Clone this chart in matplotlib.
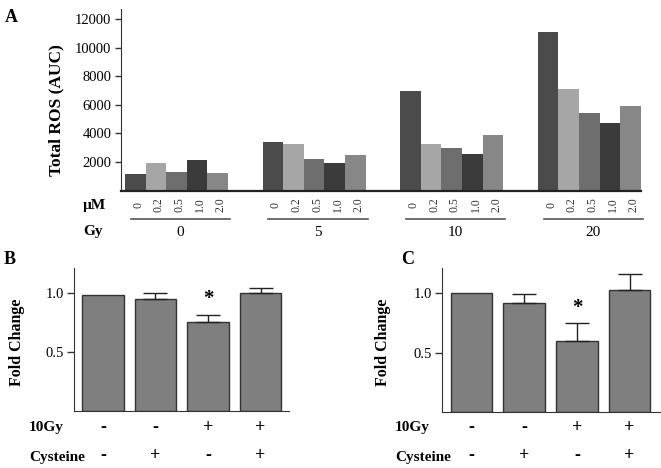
import numpy as np
import matplotlib
matplotlib.use("Agg")
import matplotlib.pyplot as plt
from matplotlib.transforms import blended_transform_factory

plt.rcParams['font.family'] = ['Liberation Serif', 'DejaVu Serif']

# Panel A data
gy_doses = ["0", "5", "10", "20"]
um_labels = ["0", "0.2", "0.5", "1.0", "2.0"]
ros_gy0 = [1130, 1920, 1260, 2150, 1240]
ros_gy5 = [3390, 3220, 2220, 1940, 2500]
ros_gy10 = [6960, 3270, 2970, 2550, 3850]
ros_gy20 = [11060, 7080, 5400, 4700, 5930]
bar_colors = ["#4b4b4b", "#a6a6a6", "#6e6e6e", "#3b3b3b", "#878787"]

# Panels B and C data
irradiated = ["-", "-", "+", "+"]
cysteine = ["-", "+", "-", "+"]
fold_b = [0.99, 0.95, 0.76, 1.005]
err_b = [0.0, 0.05, 0.06, 0.04]
fold_c = [1.0, 0.915, 0.598, 1.027]
err_c = [0.0, 0.08, 0.149, 0.136]

W, H = 661, 468
fig = plt.figure(figsize=(W / 100, H / 100), dpi=100)


def rect(left, top, right, bottom):
    return [left / W, 1 - bottom / H, (right - left) / W, (bottom - top) / H]


def fpos(x, y):
    return x / W, 1 - y / H


# ---- Panel A ----
axA = fig.add_axes(rect(121, 9, 641, 190.5))
pitch = 6.67
groups = [ros_gy0, ros_gy5, ros_gy10, ros_gy20]
trA = blended_transform_factory(axA.transData, fig.transFigure)
for g, vals in enumerate(groups):
    xs = g * pitch + np.arange(len(vals))
    axA.bar(xs, vals, width=1.0, color=bar_colors, edgecolor="none")
    for x, lab in zip(xs, um_labels):
        axA.text(x + 0.15, 1 - 205 / H, lab, rotation=90, ha="center", va="center",
                 fontsize=8.5, color="#333333", transform=trA)
    axA.plot([xs[0] - 0.22, xs[-1] + 0.6], [1 - 219 / H] * 2, color="#555555",
             lw=1.2, transform=trA, clip_on=False)
    axA.text((xs[0] + xs[-1]) / 2 + 0.19, 1 - 233 / H, gy_doses[g], ha="center",
             va="center", fontsize=11, transform=trA)

axA.set_xlim(-0.69, 3 * pitch + 4.5)
axA.set_ylim(0, 12700)
axA.set_yticks([2000, 4000, 6000, 8000, 10000, 12000])
axA.set_xticks([])
for s in ["top", "right"]:
    axA.spines[s].set_visible(False)
axA.spines["left"].set_color("#333333")
axA.spines["bottom"].set_color("#222222")
axA.spines["bottom"].set_linewidth(1.6)
axA.tick_params(axis="y", direction="out", length=4, width=1, labelsize=10.5, pad=3,
                color="#333333")

fig.text(*fpos(56, 110), "Total ROS (AUC)", rotation=90, ha="center", va="center",
         fontsize=12.5, fontweight="bold")
fig.text(*fpos(83, 205), "\u00b5M", ha="left", va="center", fontsize=11, fontweight="bold")
fig.text(*fpos(83, 232), "Gy", ha="left", va="center", fontsize=11, fontweight="bold")
fig.text(*fpos(11, 17), "A", ha="center", va="center", fontsize=13, fontweight="bold")


# ---- Panels B and C ----
def fold_panel(box, vals, errs, xlim, ylim, letter, letter_xy, ylab_x, row_x):
    ax = fig.add_axes(rect(*box))
    xs = np.arange(len(vals))
    ax.bar(xs, vals, width=0.79, color="#7f7f7f", edgecolor="#333333", linewidth=1)
    ax.errorbar(xs[1:], vals[1:], yerr=[np.zeros(len(vals) - 1), errs[1:]], fmt="none",
                ecolor="#222222", elinewidth=1, capsize=8.6, capthick=1)
    ax.text(xs[2], vals[2] + errs[2] + 0.13, "*", ha="center", va="center",
            fontsize=15, fontweight="bold")
    ax.set_xlim(*xlim)
    ax.set_ylim(*ylim)
    ax.set_yticks([0.5, 1.0])
    ax.set_yticklabels(["0.5", "1.0"])
    ax.set_xticks([])
    for s in ["top", "right"]:
        ax.spines[s].set_visible(False)
    ax.spines["left"].set_color("#333333")
    ax.spines["bottom"].set_color("#333333")
    ax.tick_params(axis="y", direction="out", length=5, width=1, labelsize=10.5, pad=2,
                   color="#333333")
    tr = blended_transform_factory(ax.transData, fig.transFigure)
    for x, a, b in zip(xs, irradiated, cysteine):
        ax.text(x, 1 - 427 / H, a, ha="center", va="center", fontsize=13,
                fontweight="bold", transform=tr)
        ax.text(x, 1 - 456 / H, b, ha="center", va="center", fontsize=13,
                fontweight="bold", transform=tr)
    fig.text(*fpos(row_x, 427), "10Gy", ha="left", va="center", fontsize=11,
             fontweight="bold")
    fig.text(*fpos(row_x, 457), "Cysteine", ha="left", va="center", fontsize=11,
             fontweight="bold")
    fig.text(*fpos(ylab_x, 342), "Fold Change", rotation=90, ha="center", va="center",
             fontsize=11.5, fontweight="bold")
    fig.text(*fpos(*letter_xy), letter, ha="center", va="center", fontsize=13,
             fontweight="bold")
    return ax


fold_panel((74, 268, 289, 411), fold_b, err_b, (-0.55, 3.54), (0, 1.217), "B",
           (10, 260), 17, 29)
fold_panel((441.7, 268, 660, 412), fold_c, err_c, (-0.565, 3.577), (0, 1.214), "C",
           (408, 260), 383, 395)

fig.savefig("out.png", dpi=100)
